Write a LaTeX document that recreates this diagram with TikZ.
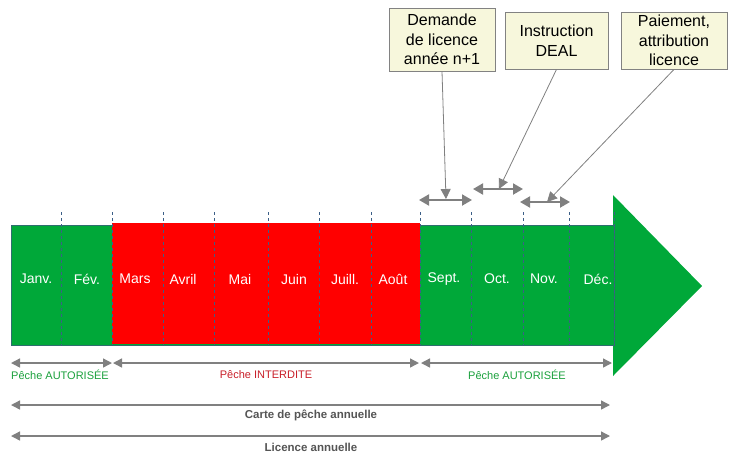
\documentclass[tikz,border=0pt]{standalone}
\usepackage{fontspec}
\setmainfont{Liberation Sans}
\usetikzlibrary{arrows.meta}
\definecolor{bargreen}{RGB}{0,168,57}
\definecolor{barred}{RGB}{255,0,0}
\definecolor{edgeteal}{RGB}{46,110,110}
\definecolor{dashblue}{RGB}{60,95,135}
\definecolor{boxfill}{RGB}{247,247,220}
\definecolor{boxedge}{RGB}{130,130,130}
\definecolor{arrgrey}{RGB}{128,128,128}
\definecolor{txtgreen}{RGB}{26,160,60}
\definecolor{txtred}{RGB}{200,30,40}
\definecolor{txtgrey}{RGB}{85,85,85}
\tikzset{
  month/.style={text=white, font=\fontsize{14}{16}\selectfont, inner sep=0pt},
  notebox/.style={draw=boxedge, fill=boxfill, line width=0.8pt, align=center, font=\fontsize{16}{19.5}\selectfont, inner sep=0pt},
  smallarr/.style={draw=arrgrey, line width=2pt, {Triangle[length=10pt,width=11pt]}-{Triangle[length=10pt,width=11pt]}},
  pointer/.style={draw=arrgrey, line width=0.8pt, -{Triangle[length=10pt,width=10pt]}},
  spanarr/.style={draw=arrgrey, line width=1.4pt, {Triangle[length=9pt,width=9pt]}-{Triangle[length=9pt,width=9pt]}},
  spanlbl/.style={font=\fontsize{11}{13}\selectfont, inner sep=0pt},
  sumlbl/.style={text=txtgrey, font=\bfseries\fontsize{11.5}{13}\selectfont, inner sep=0pt},
  monthsep/.style={draw=dashblue, line width=0.7pt, dash pattern=on 3pt off 3pt}
}
\begin{document}
\begin{tikzpicture}[x=1pt,y=-1pt]
\useasboundingbox (0,0) rectangle (731,459);
% bar
\fill[bargreen] (613,195) -- (702,286) -- (613,376) -- cycle;
\draw[edgeteal, fill=bargreen, line width=1pt] (11,225) rectangle (614,345);
\fill[barred] (112,223) rectangle (420,344);
% month separators
\foreach \xx in {61,112,163,214,268,319,371,420,471,523,569,614}
  \draw[monthsep] (\xx,212) -- (\xx,345);
% month labels
\node[month] (m1) at (36,279) {Janv.};
\node[month] (m2) at (87,279) {Fév.};
\node[month] (m3) at (135,279) {Mars};
\node[month] (m4) at (183,279) {Avril};
\node[month] (m5) at (240,279) {Mai};
\node[month] (m6) at (294,279) {Juin};
\node[month] (m7) at (345,279) {Juill.};
\node[month] (m8) at (393,279) {Août};
\node[month] (m9) at (444,279) {Sept.};
\node[month] (m10) at (497,279) {Oct.};
\node[month] (m11) at (544,279) {Nov.};
\node[month] (m12) at (598,279) {Déc.};
% top boxes
\node[notebox, minimum width=106pt, minimum height=63pt] (b1) at (442,39.5) {Demande\\de licence\\année n+1};
\node[notebox, minimum width=103pt, minimum height=57pt] (b2) at (556.5,40.5) {Instruction\\DEAL};
\node[notebox, minimum width=106pt, minimum height=57pt] (b3) at (674,40.5) {Paiement,\\attribution\\licence};
% small arrows
\coordinate (a1l) at (419,200); \coordinate (a1r) at (472,200);
\coordinate (a2l) at (473,189); \coordinate (a2r) at (523,189);
\coordinate (a3l) at (520,202); \coordinate (a3r) at (570,202);
\draw[smallarr] (a1l) -- (a1r);
\draw[smallarr] (a2l) -- (a2r);
\draw[smallarr] (a3l) -- (a3r);
\coordinate (p1) at (446,199);
\coordinate (p2) at (499,189);
\coordinate (p3) at (547,202);
\draw[pointer] (b1.south) -- (p1);
\draw[pointer] (b2.south) -- (p2);
\draw[pointer] (b3.south) -- (p3);
% spans
\coordinate (s1l) at (11,363); \coordinate (s1r) at (112,363);
\coordinate (s2l) at (113,363); \coordinate (s2r) at (419,363);
\coordinate (s3l) at (421,363); \coordinate (s3r) at (612,363);
\draw[spanarr] (s1l) -- (s1r);
\draw[spanarr] (s2l) -- (s2r);
\draw[spanarr] (s3l) -- (s3r);
\node[spanlbl, text=txtgreen] (l1) at (60,375) {Pêche AUTORISÉE};
\node[spanlbl, text=txtred] (l2) at (266,375) {Pêche INTERDITE};
\node[spanlbl, text=txtgreen] (l3) at (517,375) {Pêche AUTORISÉE};
\coordinate (c1l) at (11,405); \coordinate (c1r) at (610,405);
\coordinate (c2l) at (11,436); \coordinate (c2r) at (610,436);
\draw[spanarr] (c1l) -- (c1r);
\draw[spanarr] (c2l) -- (c2r);
\node[sumlbl] (l4) at (311,415) {Carte de pêche annuelle};
\node[sumlbl] (l5) at (311,447) {Licence annuelle};
\end{tikzpicture}
\end{document}
